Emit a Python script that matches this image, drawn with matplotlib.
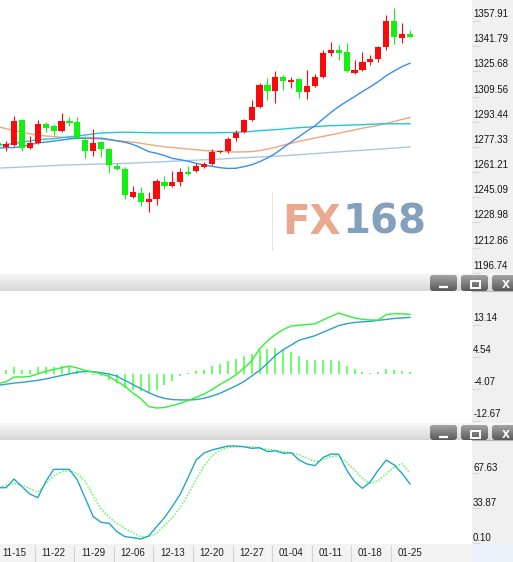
import numpy as np
import matplotlib
matplotlib.use("Agg")
import matplotlib.pyplot as plt
from matplotlib.patches import FancyBboxPatch, Rectangle
from matplotlib.colors import to_rgb

plt.rcParams['font.family'] = ['Liberation Sans', 'DejaVu Sans']

W, H, DPI = 513, 562, 100

# ---- daily gold candles ----
opens = [1279.8, 1277.2, 1278.5, 1294.5, 1276.6, 1279.8, 1292.0, 1290.7, 1287.5, 1293.9,
         1293.2, 1281.7, 1274.7, 1280.4, 1276.0, 1265.1, 1263.1, 1245.2, 1247.8, 1242.0,
         1243.9, 1254.8, 1252.3, 1254.8, 1261.2, 1261.9, 1264.4, 1266.3, 1274.0, 1274.7,
         1283.0, 1286.8, 1294.5, 1302.8, 1316.9, 1313.1, 1322.1, 1318.9, 1320.8, 1312.5,
         1316.3, 1322.1, 1337.4, 1339.3, 1338.1, 1324.6, 1326.5, 1331.7, 1333.6, 1341.3,
         1357.9, 1347.0, 1349.6]
highs = [1281.1, 1281.1, 1297.1, 1295.2, 1284.3, 1294.5, 1293.2, 1292.0, 1299.0, 1296.4,
         1296.4, 1284.3, 1288.8, 1281.1, 1276.6, 1267.0, 1264.4, 1252.3, 1251.6, 1248.4,
         1256.7, 1258.7, 1261.9, 1263.8, 1265.1, 1267.0, 1267.6, 1276.0, 1275.3, 1283.6,
         1288.1, 1295.2, 1307.3, 1318.2, 1321.4, 1325.9, 1323.3, 1322.1, 1321.4, 1326.5,
         1324.0, 1339.3, 1344.5, 1342.5, 1343.8, 1332.9, 1338.1, 1336.1, 1341.9, 1361.8,
         1366.2, 1356.6, 1352.2]
lows = [1276.6, 1274.7, 1277.9, 1274.7, 1276.0, 1279.2, 1286.8, 1284.9, 1286.8, 1290.7,
        1282.4, 1270.2, 1271.5, 1270.8, 1260.6, 1262.5, 1243.9, 1244.6, 1239.4, 1235.6,
        1240.1, 1250.3, 1251.6, 1252.3, 1259.3, 1261.2, 1263.8, 1265.7, 1273.4, 1273.4,
        1281.1, 1286.2, 1293.9, 1302.2, 1307.3, 1305.4, 1313.7, 1315.0, 1308.6, 1308.0,
        1315.7, 1321.4, 1335.5, 1332.9, 1325.3, 1324.0, 1325.9, 1329.7, 1331.7, 1339.3,
        1343.2, 1343.8, 1347.7]
closes = [1277.9, 1279.2, 1293.9, 1276.6, 1279.8, 1292.0, 1289.4, 1287.5, 1293.9, 1292.6,
          1283.0, 1274.7, 1279.8, 1276.0, 1265.7, 1263.1, 1246.5, 1248.4, 1242.0, 1243.9,
          1255.5, 1252.3, 1254.8, 1261.2, 1259.9, 1265.1, 1266.3, 1274.0, 1274.7, 1282.4,
          1286.2, 1294.5, 1302.8, 1316.9, 1313.1, 1322.1, 1319.5, 1320.1, 1312.5, 1316.3,
          1322.1, 1337.4, 1339.3, 1337.4, 1325.9, 1326.5, 1331.7, 1333.6, 1341.3, 1357.9,
          1347.7, 1349.6, 1347.7]

# ---- moving averages ----
ma20 = [1276.6, 1276.8, 1276.9, 1277.5, 1278.7, 1279.8, 1280.4, 1281.0, 1281.7, 1282.4,
        1282.8, 1283.0, 1283.0, 1282.9, 1282.1, 1281.1, 1280.3, 1278.9, 1276.7, 1274.3,
        1273.2, 1271.8, 1269.9, 1269.1, 1268.1, 1266.8, 1265.6, 1264.9, 1264.0, 1263.5,
        1263.6, 1264.6, 1265.8, 1267.8, 1270.2, 1273.1, 1276.8, 1280.4, 1283.9, 1287.5,
        1290.8, 1295.1, 1299.3, 1303.1, 1306.4, 1309.5, 1312.8, 1315.8, 1319.1, 1322.9,
        1325.9, 1328.7, 1330.9]
ma_mid = [1278.4, 1279.0, 1279.4, 1280.3, 1281.1, 1281.9, 1282.3, 1282.6, 1283.1, 1283.8,
          1284.3, 1284.9, 1285.6, 1286.2, 1286.4, 1286.6, 1286.7, 1286.6, 1286.5, 1286.4,
          1286.3, 1286.3, 1286.3, 1286.3, 1286.3, 1286.3, 1286.3, 1286.3, 1286.4, 1286.5,
          1286.6, 1286.9, 1287.2, 1287.7, 1288.0, 1288.3, 1288.7, 1289.2, 1289.6, 1289.9,
          1290.3, 1290.6, 1290.9, 1291.0, 1291.2, 1291.4, 1291.5, 1291.8, 1292.0, 1292.1,
          1292.1, 1292.1, 1292.1]
ma_slow = [1290.2, 1289.0, 1287.7, 1286.7, 1285.7, 1284.7, 1284.3, 1283.9, 1283.5, 1283.2,
           1283.0, 1282.7, 1282.5, 1282.3, 1281.8, 1281.4, 1280.8, 1280.4, 1279.6, 1278.8,
           1278.0, 1277.4, 1276.9, 1276.4, 1275.9, 1275.5, 1275.0, 1274.7, 1274.4, 1274.2,
           1274.0, 1274.1, 1274.3, 1274.9, 1275.9, 1277.0, 1278.4, 1279.6, 1280.9, 1281.9,
           1283.0, 1284.0, 1285.0, 1286.0, 1287.1, 1288.2, 1289.3, 1290.2, 1291.1, 1292.3,
           1293.6, 1294.9, 1296.1]
ma_long_bars = [0, 4, 8, 12, 16, 20, 24, 28, 32, 36, 40, 44, 48, 52]
ma_long = [1263.7, 1264.6, 1265.6, 1266.2, 1266.7, 1267.6, 1268.6, 1269.5, 1270.6, 1271.6,
           1273.0, 1274.5, 1275.8, 1277.3]

# ---- MACD ----
dif = [-2.56, -2.11, -0.83, -0.83, -0.69, 0.03, 0.69, 1.17, 1.66, 2.08,
       1.58, 0.91, 0.51, 0.05, -0.69, -2.03, -3.23, -5.10, -6.57, -8.70,
       -9.11, -8.97, -8.44, -7.85, -7.10, -6.25, -5.37, -4.17, -2.83, -1.63,
       -0.29, 1.47, 3.44, 6.65, 8.79, 10.52, 11.86, 12.79, 13.00, 13.19,
       13.38, 14.39, 15.33, 16.26, 15.59, 14.93, 14.58, 14.39, 14.39, 15.86,
       16.05, 16.05, 15.91]
dea = [-3.02, -2.75, -2.46, -2.24, -2.00, -1.71, -1.36, -0.88, -0.43, 0.00,
       0.45, 0.64, 0.59, 0.35, -0.03, -0.61, -1.76, -2.83, -3.93, -4.99,
       -5.90, -6.54, -6.86, -6.95, -6.97, -6.85, -6.50, -5.90, -5.20, -4.20,
       -3.20, -2.10, -0.60, 0.95, 2.80, 4.90, 6.50, 7.70, 9.00, 9.60,
       10.20, 11.10, 12.00, 12.90, 13.40, 13.75, 13.90, 14.05, 14.30, 14.55,
       14.80, 14.95, 15.10]
macd_hist = [0.70, 0.98, 1.87, 1.16, 1.16, 1.78, 1.78, 1.78, 2.05, 2.05,
             1.16, 0.27, -0.18, -0.62, -1.51, -2.40, -3.74, -4.18, -4.63, -4.90,
             -4.18, -2.85, -1.96, -0.62, 0.15, 0.71, 1.16, 2.23, 2.67, 3.38,
             4.00, 4.72, 5.34, 6.50, 6.68, 6.85, 6.50, 5.87, 4.72, 3.83,
             3.83, 3.83, 3.83, 3.56, 2.23, 1.34, 0.62, 0.27, 0.45, 1.42,
             1.16, 0.89, 0.62]

# ---- KD ----
k_line = [53.3, 53.3, 61.7, 54.3, 47.2, 43.7, 59.1, 71.0, 71.0, 71.0,
          60.7, 43.1, 25.4, 19.9, 18.9, 10.9, 6.1, 5.1, 3.8, 6.7,
          15.7, 24.4, 35.3, 47.2, 63.3, 80.0, 86.8, 89.7, 91.6, 93.5,
          93.5, 92.9, 91.3, 91.9, 88.1, 89.0, 86.5, 87.1, 80.0, 76.2,
          74.6, 82.3, 85.8, 85.5, 70.4, 59.1, 52.7, 59.1, 70.4, 80.0,
          75.2, 67.2, 56.9]
d_line = [54.0, 55.0, 57.5, 55.6, 52.7, 48.8, 56.9, 64.6, 68.8, 69.4,
          67.2, 59.1, 45.6, 32.8, 24.7, 18.9, 14.1, 9.9, 6.1, 6.1,
          9.3, 16.7, 24.4, 34.4, 47.2, 61.4, 74.2, 83.9, 89.4, 91.9,
          92.6, 92.9, 92.9, 91.3, 90.3, 89.4, 88.1, 87.1, 85.2, 81.6,
          78.7, 80.0, 83.2, 84.2, 77.8, 70.4, 62.0, 57.5, 60.1, 66.5,
          73.3, 76.5, 67.2]

# ---- axis labels ----
date_labels = ["11-15", "11-22", "11-29", "12-06", "12-13", "12-20",
               "12-27", "01-04", "01-11", "01-18", "01-25"]
date_bars = [2, 7, 12, 17, 22, 27, 32, 37, 42, 47, 52]
price_ticks = [1357.91, 1341.79, 1325.68, 1309.56, 1293.44, 1277.33,
               1261.21, 1245.09, 1228.98, 1212.86, 1196.74]
macd_ticks = [13.14, 4.54, -4.07, -12.67]
kd_ticks = [67.63, 33.87, 0.10]

RED = '#fa0a0a'
GREEN = '#14f014'

fig = plt.figure(figsize=(W / DPI, H / DPI), dpi=DPI, facecolor='#f0f0f0')


def px_axes(x0, y0, x1, y1, **kw):
    return fig.add_axes([x0 / W, 1 - y1 / H, (x1 - x0) / W, (y1 - y0) / H], **kw)


def vgrad(ax, x0, x1, y0, y1, c_top, c_bot, clip=None, z=1):
    t = np.linspace(0, 1, 32)[:, None, None]
    img = (1 - t) * np.array(to_rgb(c_top)) + t * np.array(to_rgb(c_bot))
    im = ax.imshow(img, extent=(x0, x1, y1, y0), origin='upper', aspect='auto',
                   interpolation='bilinear', zorder=z)
    if clip is not None:
        im.set_clip_path(clip)
    return im


# window chrome drawn in pixel space
bg = px_axes(0, 0, W, H, zorder=0)
bg.set_xlim(0, W)
bg.set_ylim(H, 0)
bg.set_autoscale_on(False)
bg.axis('off')

for y0, y1 in [(273, 291), (423, 440)]:
    vgrad(bg, 0, W, y0, y1, '#f8f8f8', '#d8d8d8')
    bg.plot([0, W], [y1 - 0.5, y1 - 0.5], color='#b8b8b8', lw=0.8, zorder=2)
    for bx in (430, 461, 492):
        btn = FancyBboxPatch((bx, y0 + 2), 27, y1 - y0 - 2,
                             boxstyle='round,pad=0,rounding_size=4',
                             fc='#777777', ec='none', zorder=3)
        bg.add_patch(btn)
        vgrad(bg, bx, bx + 27, y0 + 2, y1, '#a4a4a4', '#5a5a5a', clip=btn, z=3)
    bg.plot([439, 447.5], [y0 + 14.3, y0 + 14.3], color='white', lw=1.6,
            solid_capstyle='butt', zorder=4)
    bg.add_patch(Rectangle((470.5, y0 + 8), 9.5, 7.3, fc='none', ec='white',
                           lw=1.4, zorder=4))
    bg.text(506, y0 + 11.8, 'X', color='white', fontsize=7.5, fontweight='bold',
            family='DejaVu Sans', ha='center', va='center', zorder=4)

bg.add_patch(Rectangle((0, 544), 472, 18, fc='#f3f3f3', ec='none', zorder=1))
bg.add_patch(Rectangle((472, 544), 41, 18, fc='#e9f1fb', ec='none', zorder=1))

bars = np.arange(len(closes))
XLIM = (0.232, 59.83)


def style_panel(ax, ticks, ylim, label_dy_px):
    ax.set_facecolor('white')
    ax.set_xlim(*XLIM)
    ax.set_ylim(*ylim)
    for s in ax.spines.values():
        s.set_visible(False)
    ax.tick_params(axis='x', length=0, labelbottom=False)
    ax.yaxis.tick_right()
    ax.set_yticks(ticks)
    ax.tick_params(axis='y', direction='out', length=5.8, width=0.8,
                   color='#d9d9d9', labelright=False, labelleft=False, left=False)
    for v in ticks:
        ax.annotate(f'{v:.2f}', xy=(1, v), xycoords=('axes fraction', 'data'),
                    xytext=(0.8, label_dy_px * 0.72), textcoords='offset points',
                    ha='left', va='center', fontsize=7, color='#141414',
                    annotation_clip=False)


# ---- price panel ----
ax_p = px_axes(0, 0, 472, 273, zorder=2)
style_panel(ax_p, price_ticks, (1196.55, 1371.36), 7)

ax_p.text(341 / 472, 1 - 223 / 273, 'FX', transform=ax_p.transAxes, ha='right',
          va='center', fontsize=29, fontweight='bold', family='DejaVu Sans',
          color='#eaa88e', zorder=0.5)
ax_p.text(342 / 472, 1 - 223 / 273, '168', transform=ax_p.transAxes, ha='left',
          va='center', fontsize=29, fontweight='bold', family='DejaVu Sans',
          color='#83a1bc', zorder=0.5)
ax_p.plot([272 / 472, 272 / 472], [1 - 250 / 273, 1 - 192 / 273],
          transform=ax_p.transAxes, color='#e4e4e4', lw=0.8, zorder=0.5)

o = np.array(opens)
c = np.array(closes)
up = c >= o
cols = np.where(up, RED, GREEN)
ax_p.vlines(bars, lows, highs, colors=cols, lw=0.8, zorder=3)
body = np.maximum(np.abs(c - o), 0.6)
ax_p.bar(bars, body, bottom=np.minimum(o, c), width=0.78, color=cols,
         linewidth=0, zorder=4)

ax_p.plot(ma_long_bars, ma_long, color='#a9c8e0', lw=1.0, zorder=2)
ax_p.plot(bars, ma_slow, color='#eaa97f', lw=1.0, zorder=2)
ax_p.plot(bars, ma_mid, color='#22c6d2', lw=1.0, zorder=2)
ax_p.plot(bars, ma20, color='#3a8eec', lw=1.0, zorder=2)

# ---- MACD panel ----
ax_m = px_axes(0, 291, 472, 423, zorder=2)
style_panel(ax_m, macd_ticks, (-13.11, 22.14), 7)
ax_m.vlines(bars, 0, macd_hist, colors='#5cff5c', lw=1.3, zorder=2)
ax_m.plot(bars, dea, color='#2aa2c8', lw=1.0, zorder=3)
ax_m.plot(bars, dif, color='#33f033', lw=1.0, zorder=4)

# ---- KD panel ----
ax_k = px_axes(0, 440, 472, 544, zorder=2)
style_panel(ax_k, kd_ticks, (-1.0, 99.33), 5)
ax_k.plot(bars, d_line, color='#3cff3c', lw=1.0, ls=(0, (1, 1.3)), zorder=3)
ax_k.plot(bars, k_line, color='#24a6c2', lw=1.0, zorder=4)

ax_k.set_xticks(date_bars)
ax_k.set_xticklabels(date_labels)
ax_k.tick_params(axis='x', length=0, labelbottom=True, labelsize=7,
                 labelcolor='#202020', pad=3.0)
ax_k.vlines(np.array(date_bars[:-1]) + 2.6, -0.17, -0.01,
            transform=ax_k.get_xaxis_transform(), colors='#d3d3d3', lw=0.8,
            clip_on=False)

fig.savefig('out.png', dpi=DPI, facecolor=fig.get_facecolor())
